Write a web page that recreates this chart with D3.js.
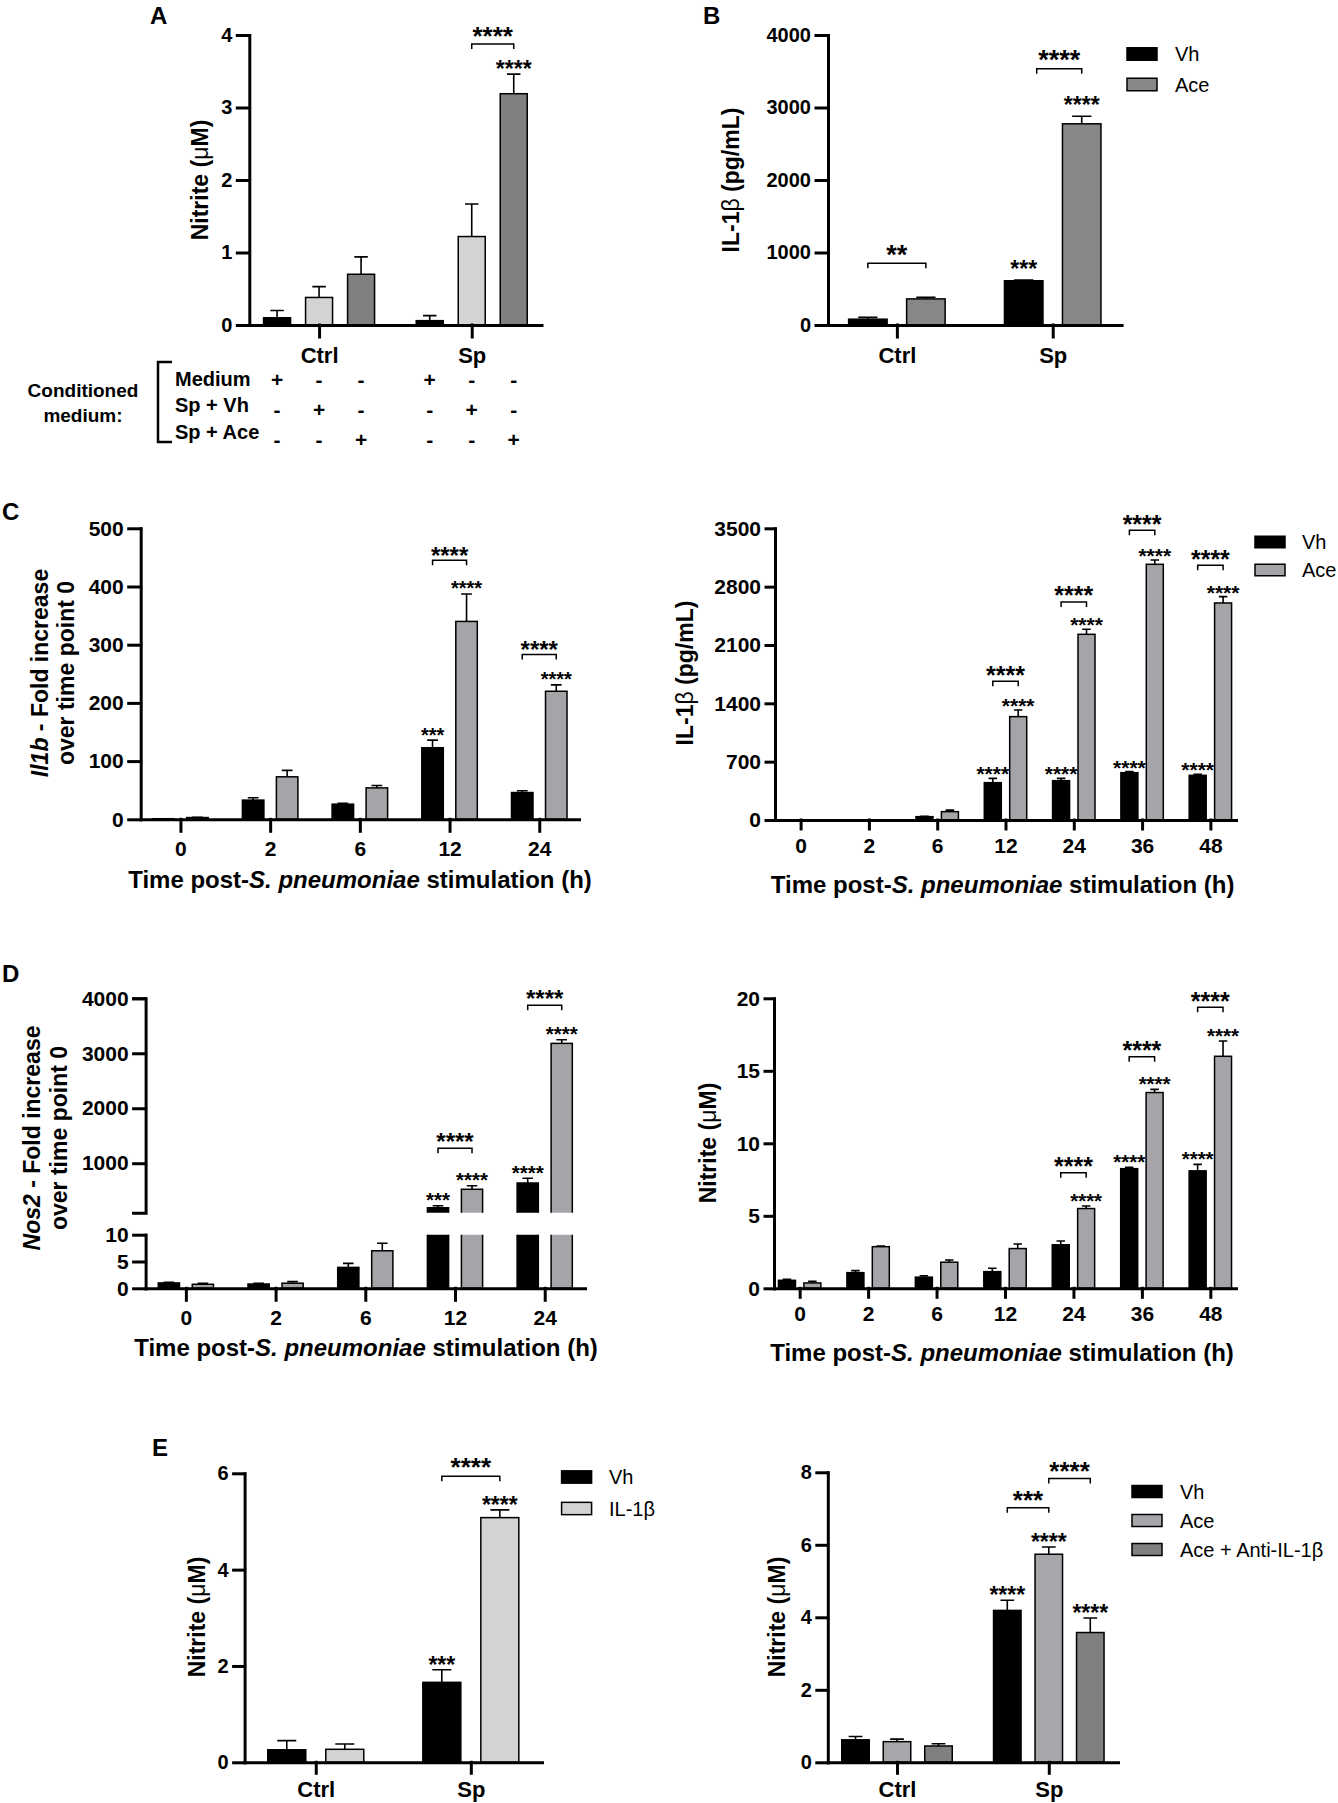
<!DOCTYPE html>
<html>
<head>
<meta charset="utf-8">
<script src="https://cdn.jsdelivr.net/npm/d3@7"></script>
<style>
  body { margin: 0; background: #fff; }
  svg { display: block; font-family: "Liberation Sans", Arial, Helvetica, sans-serif; }
  .axis path, .axis line { stroke: #000; stroke-width: 3; stroke-linecap: square; }
  .axis text { fill: #000; font-weight: bold; font-family: "Liberation Sans", Arial, sans-serif; }
  text { fill: #000; }
</style>
</head>
<body>
<svg id="fig" width="1338" height="1803"></svg>
<script>
// ---- data ----
// A: nitrite after conditioned medium
const groupsA = ["Ctrl", "Sp"];
const seriesA = ["Medium", "Sp + Vh", "Sp + Ace"];
const nitriteA = [[0.10, 0.38, 0.70], [0.06, 1.22, 3.19]];
const nitriteSemA = [[0.10, 0.15, 0.24], [0.07, 0.45, 0.27]];
const condRows = ["Medium", "Sp + Vh", "Sp + Ace"];
const condSigns = [
  ["+", "-", "-", "+", "-", "-"],
  ["-", "+", "-", "-", "+", "-"],
  ["-", "-", "+", "-", "-", "+"]
];

// B: IL-1b protein
const groupsB = ["Ctrl", "Sp"];
const seriesB = ["Vh", "Ace"];
const il1bB = [[80, 360], [610, 2775]];
const il1bSemB = [[25, 22], [10, 105]];

// C left: Il1b fold increase
const timesC1 = ["0", "2", "6", "12", "24"];
const seriesC = ["Vh", "Ace"];
const il1bFoldVh = [1, 33, 26, 123, 46];
const il1bFoldAce = [3, 73, 54, 340, 220];
const il1bFoldSemVh = [0, 4, 1.5, 13, 3];
const il1bFoldSemAce = [0.5, 11, 4, 47, 11];

// C right: IL-1b protein over time
const timesC2 = ["0", "2", "6", "12", "24", "36", "48"];
const il1bTimeVh = [0, 0, 40, 448, 472, 568, 536];
const il1bTimeAce = [0, 0, 100, 1240, 2228, 3068, 2604];
const il1bTimeSemVh = [0, 0, 5, 52, 28, 12, 12];
const il1bTimeSemAce = [0, 0, 18, 80, 60, 52, 76];

// D left: Nos2 fold increase (broken axis)
const timesD1 = ["0", "2", "6", "12", "24"];
const nos2Vh = [1.0, 0.8, 3.9, 190, 640];
const nos2Ace = [0.75, 0.95, 7.0, 526, 3180];
const nos2SemVh = [0.1, 0.15, 0.75, 37, 86];
const nos2SemAce = [0.17, 0.3, 1.4, 65, 65];

// D right: nitrite over time
const timesD2 = ["0", "2", "6", "12", "24", "36", "48"];
const nitriteTimeVh = [0.55, 1.08, 0.77, 1.15, 3.0, 8.25, 8.1];
const nitriteTimeAce = [0.37, 2.87, 1.8, 2.74, 5.5, 13.5, 16.0];
const nitriteTimeSemVh = [0.07, 0.14, 0.1, 0.23, 0.26, 0.09, 0.45];
const nitriteTimeSemAce = [0.11, 0.05, 0.15, 0.32, 0.18, 0.22, 1.06];

// E left: nitrite with IL-1b
const groupsE = ["Ctrl", "Sp"];
const seriesE1 = ["Vh", "IL-1β"];
const nitriteE1 = [[0.26, 0.27], [1.66, 5.08]];
const nitriteSemE1 = [[0.19, 0.11], [0.26, 0.16]];

// E right: nitrite with anti-IL-1b
const seriesE2 = ["Vh", "Ace", "Ace + Anti-IL-1β"];
const nitriteE2 = [[0.62, 0.57, 0.45], [4.19, 5.74, 3.58]];
const nitriteSemE2 = [[0.09, 0.07, 0.06], [0.28, 0.20, 0.40]];

// significance marks: brackets [group, seriesA, seriesB, y value, label], stars [group, series, label]
const bracketsA = [["Sp", 1, 2, 3.876, "****"]];
const starsA = [["Sp", 2, "****"]];
const bracketsB = [["Ctrl", 0, 1, 851, "**"], ["Sp", 0, 1, 3535, "****"]];
const starsB = [["Sp", 0, "***"], ["Sp", 1, "****"]];
const bracketsC1 = [["12", 0, 1, 445, "****"], ["24", 0, 1, 283, "****"]];
const starsC1 = [["12", 0, "***"], ["12", 1, "****"], ["24", 1, "****"]];
const bracketsC2 = [["12", 0, 1, 1666, "****"], ["24", 0, 1, 2617, "****"], ["36", 0, 1, 3476, "****"], ["48", 0, 1, 3056, "****"]];
const starsC2 = [["12", 0, "****"], ["12", 1, "****"], ["24", 0, "****"], ["24", 1, "****"], ["36", 0, "****"], ["36", 1, "****"], ["48", 0, "****"], ["48", 1, "****"]];
const bracketsD1 = [["12", 0, 1, 1271, "****"], ["24", 0, 1, 3873, "****"]];
const starsD1 = [["12", 0, "***"], ["12", 1, "****"], ["24", 0, "****"], ["24", 1, "****"]];
const bracketsD2 = [["24", 0, 1, 7.97, "****"], ["36", 0, 1, 15.97, "****"], ["48", 0, 1, 19.38, "****"]];
const starsD2 = [["24", 1, "****"], ["36", 0, "****"], ["36", 1, "****"], ["48", 0, "****"], ["48", 1, "****"]];
const bracketsE1 = [["Sp", 0, 1, 5.94, "****"]];
const starsE1 = [["Sp", 0, "***"], ["Sp", 1, "****"]];
const bracketsE2 = [["Sp", 0, 1, 7.02, "***"], ["Sp", 1, 2, 7.83, "****"]];
const starsE2 = [["Sp", 0, "****"], ["Sp", 1, "****"], ["Sp", 2, "****"]];

// transpose per-series arrays into [group][series]
const byGroup = (...cols) => cols[0].map((_, i) => cols.map(c => c[i]));

const svg = d3.select("#fig");
const dfmt = d3.format("d");

function drawPanel(o) {
  const g = svg.append("g");
  const nS = o.series.length;
  const x = d3.scalePoint().domain(o.groups).range([o.left, o.right]).padding(o.pad);
  const inner = 1 - o.barW / o.pitch;
  const sub = d3.scaleBand().domain(d3.range(nS))
    .range([-nS * o.pitch / 2, nS * o.pitch / 2])
    .paddingInner(inner).paddingOuter(inner / 2);
  const cx = (grp, si) => x(grp) + sub(si) + sub.bandwidth() / 2;

  const segs = o.segments.map(s => Object.assign({}, s, {
    y: d3.scaleLinear().domain(s.domain).range(s.range)
  }));
  const yPx = v => {
    const s = segs.find(s => v >= s.domain[0] && v <= s.domain[1]) || segs[segs.length - 1];
    return s.y(v);
  };

  const rows = [];
  o.values.forEach((row, gi) => row.forEach((v, si) =>
    rows.push({ grp: o.groups[gi], si, v, e: o.errs[gi][si] })));

  segs.forEach((s, k) => {
    const id = o.id + "-clip" + k;
    const top = k === segs.length - 1 ? s.range[1] - 400 : s.range[1];
    const bot = s.range[0] + (k === 0 ? 3 : 0);
    g.append("clipPath").attr("id", id).append("rect")
      .attr("x", o.left - 10).attr("width", o.right - o.left + 300)
      .attr("y", top).attr("height", bot - top);
    const bg = g.append("g").attr("clip-path", `url(#${id})`);
    const vis = rows.filter(d => k === 0 || d.v > s.domain[0]);
    const yTop = d => d.v > s.domain[1] ? s.range[1] - 10 : s.y(d.v);
    const yBot = () => k === 0 ? s.y(s.domain[0]) : s.range[0] + 10;

    bg.selectAll("rect.bar").data(vis).join("rect")
      .attr("class", "bar")
      .attr("x", d => cx(d.grp, d.si) - o.barW / 2)
      .attr("width", o.barW)
      .attr("y", yTop)
      .attr("height", d => Math.max(0, yBot() - yTop(d)))
      .attr("fill", d => o.colors[d.si])
      .attr("stroke", "#000")
      .attr("stroke-width", 1.5);

    const withErr = vis.filter(d => d.v <= s.domain[1] && d.e > 0);
    const capW = o.barW * 0.5;
    bg.selectAll("path.err").data(withErr).join("path")
      .attr("class", "err")
      .attr("fill", "none").attr("stroke", "#000").attr("stroke-width", 1.6)
      .attr("d", d => {
        const c = cx(d.grp, d.si), y0 = s.y(d.v), y1 = s.y(d.v + d.e);
        return `M${c},${y0}V${y1}M${c - capW / 2},${y1}H${c + capW / 2}`;
      });

    const ya = d3.axisLeft(s.y).tickValues(s.ticks).tickFormat(dfmt)
      .tickSize(o.tick).tickSizeOuter(s.cap ? o.tick : 0).tickPadding(o.yPad);
    g.append("g").attr("class", "axis")
      .attr("transform", `translate(${o.left},0)`)
      .call(ya)
      .selectAll("text").style("font-size", o.tickFs + "px");
  });

  const xa = d3.axisBottom(x).tickSize(o.tick).tickSizeOuter(0).tickPadding(o.xPad);
  g.append("g").attr("class", "axis")
    .attr("transform", `translate(0,${segs[0].range[0]})`)
    .call(xa)
    .selectAll("text").style("font-size", o.xFs + "px");

  // significance brackets
  o.brackets.forEach(([grp, a, b, yv, label]) => {
    const x1 = cx(grp, a) + ((o.brInset || {})[grp] || 0), x2 = cx(grp, b), yb = yPx(yv);
    g.append("path").attr("fill", "none").attr("stroke", "#000").attr("stroke-width", 1.5)
      .attr("d", `M${x1},${yb + 5}V${yb}H${x2}V${yb + 5}`);
    starText(g, (x1 + x2) / 2, yb - o.brGap, label, o.brFs);
  });
  o.stars.forEach(([grp, si, label]) => {
    const gi = o.groups.indexOf(grp);
    const v = o.values[gi][si] + o.errs[gi][si];
    starText(g, cx(grp, si), yPx(v) - o.starGap, label, o.starFs);
  });

  if (o.legend) {
    const L = o.legend;
    o.series.forEach((name, si) => {
      const yc = L.y + si * L.dy;
      g.append("rect").attr("x", L.x).attr("y", yc - L.h / 2)
        .attr("width", L.w).attr("height", L.h)
        .attr("fill", o.colors[si]).attr("stroke", "#000").attr("stroke-width", 1.5);
      g.append("text").attr("x", L.tx).attr("y", yc).attr("dy", "0.35em")
        .style("font-size", L.fs + "px").text(name);
    });
  }
  return { cx };
}

// asterisks sit high in the em box, so the baseline goes below the wanted centre
function starText(g, x, yc, label, fs) {
  g.append("text").attr("x", x).attr("y", yc + 0.47 * fs)
    .attr("text-anchor", "middle")
    .style("font-size", fs + "px").style("font-weight", "bold")
    .text(label);
}

function title(cx, cy, parts, fs, rotate) {
  const t = svg.append("text")
    .attr("transform", `translate(${cx},${cy})` + (rotate ? " rotate(-90)" : ""))
    .attr("text-anchor", "middle").attr("dy", "0.35em")
    .style("font-size", fs + "px").style("font-weight", "bold");
  parts.forEach(p => {
    const ts = t.append("tspan").text(p[0]);
    if (p[1]) ts.style("font-style", "italic");
    if (p[2]) ts.style("font-weight", "normal");
  });
}

function letter(x, y, s) {
  svg.append("text").attr("x", x).attr("y", y)
    .style("font-size", "24px").style("font-weight", "bold").text(s);
}

const xTitleParts = [["Time post-"], ["S. pneumoniae", true], [" stimulation (h)"]];
const nitriteParts = [["Nitrite ("], ["μ", false, true], ["M)"]];
const il1bParts = [["IL-1"], ["β", false, true], [" (pg/mL)"]];

// ---- Panel A ----
const pA = drawPanel({
  id: "A", groups: groupsA, series: seriesA, values: nitriteA, errs: nitriteSemA,
  colors: ["#000000", "#d3d3d3", "#808080"],
  left: 249.3, right: 541.5, pad: 0.457, pitch: 42, barW: 27,
  segments: [{ domain: [0, 4], range: [325, 35], ticks: [0, 1, 2, 3, 4] }],
  tick: 12, yPad: 5, xPad: 10.5, tickFs: 20, xFs: 22,
  brackets: bracketsA, stars: starsA, brGap: 11, starGap: 8, brFs: 26, starFs: 23
});
letter(150, 24, "A");
title(199.7, 180, nitriteParts, 23, true);

// conditioned medium table
svg.append("path").attr("fill", "none").attr("stroke", "#000").attr("stroke-width", 2.5)
  .attr("d", "M172,362H158V442H172");
svg.append("text").attr("x", 83).attr("y", 390).attr("dy", "0.35em").attr("text-anchor", "middle")
  .style("font-size", "19px").style("font-weight", "bold").text("Conditioned");
svg.append("text").attr("x", 83).attr("y", 415).attr("dy", "0.35em").attr("text-anchor", "middle")
  .style("font-size", "19px").style("font-weight", "bold").text("medium:");
condRows.forEach((name, r) => {
  svg.append("text").attr("x", 175).attr("y", 379 + r * 26.3).attr("dy", "0.35em")
    .style("font-size", "20px").style("font-weight", "bold").text(name);
  condSigns[r].forEach((s, c) => {
    const grp = groupsA[Math.floor(c / 3)], si = c % 3;
    svg.append("text").attr("x", pA.cx(grp, si)).attr("y", 380 + r * 30).attr("dy", "0.35em")
      .attr("text-anchor", "middle")
      .style("font-size", "21px").style("font-weight", "bold").text(s);
  });
});

// ---- Panel B ----
drawPanel({
  id: "B", groups: groupsB, series: seriesB, values: il1bB, errs: il1bSemB,
  colors: ["#000000", "#878787"],
  left: 828, right: 1121.6, pad: 0.442, pitch: 58, barW: 38.5,
  segments: [{ domain: [0, 4000], range: [325, 35], ticks: [0, 1000, 2000, 3000, 4000] }],
  tick: 12, yPad: 5, xPad: 10.5, tickFs: 20, xFs: 22,
  brackets: bracketsB, stars: starsB, brGap: 12, starGap: 14, brFs: 27, starFs: 23,
  brInset: { Sp: 13 },
  legend: { x: 1127, y: 54, dy: 30.5, w: 30, h: 12.5, tx: 1175, fs: 20 }
});
letter(703, 24, "B");
title(731, 180, il1bParts, 23, true);

// ---- Panel C left ----
drawPanel({
  id: "C1", groups: timesC1, series: seriesC,
  values: byGroup(il1bFoldVh, il1bFoldAce), errs: byGroup(il1bFoldSemVh, il1bFoldSemAce),
  colors: ["#000000", "#a5a5a9"],
  left: 140.7, right: 579, pad: 0.443, pitch: 34, barW: 21.5,
  segments: [{ domain: [0, 500], range: [819.3, 528.3], ticks: [0, 100, 200, 300, 400, 500] }],
  tick: 12, yPad: 5, xPad: 10, tickFs: 21, xFs: 21,
  brackets: bracketsC1, stars: starsC1, brGap: 8, starGap: 8, brFs: 24, starFs: 20
});
letter(2, 520, "C");
title(40, 673, [["Il1b", true], [" - Fold increase"]], 23, true);
title(66, 673, [["over time point 0"]], 23, true);
title(360, 880, xTitleParts, 24, false);

// ---- Panel C right ----
drawPanel({
  id: "C2", groups: timesC2, series: seriesC,
  values: byGroup(il1bTimeVh, il1bTimeAce), errs: byGroup(il1bTimeSemVh, il1bTimeSemAce),
  colors: ["#000000", "#a5a5a9"],
  left: 775, right: 1236, pad: 0.375, pitch: 25.4, barW: 17,
  segments: [{ domain: [0, 3500], range: [820, 528.3], ticks: [0, 700, 1400, 2100, 2800, 3500] }],
  tick: 9, yPad: 5, xPad: 9, tickFs: 21, xFs: 21,
  brackets: bracketsC2, stars: starsC2, brGap: 9.3, starGap: 7, brFs: 25, starFs: 21,
  legend: { x: 1255, y: 542, dy: 28, w: 30, h: 11.5, tx: 1302, fs: 20 }
});
title(685, 673, il1bParts, 23, true);
title(1002.6, 885, xTitleParts, 24, false);

// ---- Panel D left (broken axis) ----
drawPanel({
  id: "D1", groups: timesD1, series: seriesC,
  values: byGroup(nos2Vh, nos2Ace), errs: byGroup(nos2SemVh, nos2SemAce),
  colors: ["#000000", "#a5a5a9"],
  left: 145.6, right: 585, pad: 0.449, pitch: 34, barW: 21.2,
  segments: [
    { domain: [0, 10], range: [1288.3, 1234.7], ticks: [0, 5, 10] },
    { domain: [100, 4000], range: [1212.7, 998.3], ticks: [1000, 2000, 3000, 4000], cap: true }
  ],
  tick: 12, yPad: 5, xPad: 9.6, tickFs: 21, xFs: 21,
  brackets: bracketsD1, stars: starsD1, brGap: 9.3, starGap: 8, brFs: 24, starFs: 20.5
});
letter(2, 982, "D");
title(32, 1138, [["Nos2", true], [" - Fold increase"]], 23, true);
title(59, 1138, [["over time point 0"]], 23, true);
title(366, 1348, xTitleParts, 24, false);

// ---- Panel D right ----
drawPanel({
  id: "D2", groups: timesD2, series: seriesC,
  values: byGroup(nitriteTimeVh, nitriteTimeAce), errs: byGroup(nitriteTimeSemVh, nitriteTimeSemAce),
  colors: ["#000000", "#a5a5a9"],
  left: 774, right: 1236, pad: 0.375, pitch: 25.4, barW: 17,
  segments: [{ domain: [0, 20], range: [1288.3, 998.3], ticks: [0, 5, 10, 15, 20] }],
  tick: 9, yPad: 5, xPad: 9, tickFs: 21, xFs: 21,
  brackets: bracketsD2, stars: starsD2, brGap: 9.4, starGap: 8, brFs: 25, starFs: 20.5
});
title(708, 1143, nitriteParts, 23, true);
title(1002, 1353, xTitleParts, 24, false);

// ---- Panel E left ----
drawPanel({
  id: "E1", groups: groupsE, series: seriesE1, values: nitriteE1, errs: nitriteSemE1,
  colors: ["#000000", "#d3d3d3"],
  left: 244.6, right: 542, pad: 0.459, pitch: 58, barW: 38,
  segments: [{ domain: [0, 6], range: [1762.3, 1473.3], ticks: [0, 2, 4, 6] }],
  tick: 11, yPad: 5, xPad: 8, tickFs: 20, xFs: 22,
  brackets: bracketsE1, stars: starsE1, brGap: 12.7, starGap: 8, brFs: 26, starFs: 23,
  legend: { x: 561.6, y: 1477, dy: 31.5, w: 30, h: 12.3, tx: 609, fs: 20 }
});
letter(152, 1456, "E");
title(197, 1617, nitriteParts, 23, true);

// ---- Panel E right ----
drawPanel({
  id: "E2", groups: groupsE, series: seriesE2, values: nitriteE2, errs: nitriteSemE2,
  colors: ["#000000", "#a7a7ab", "#808080"],
  left: 827.8, right: 1118, pad: 0.456, pitch: 41.5, barW: 27.5,
  segments: [{ domain: [0, 8], range: [1762.3, 1472.3], ticks: [0, 2, 4, 6, 8] }],
  tick: 11, yPad: 5, xPad: 8, tickFs: 20, xFs: 22,
  brackets: bracketsE2, stars: starsE2, brGap: 11, starGap: 8, brFs: 26, starFs: 23,
  legend: { x: 1132, y: 1491.5, dy: 29, w: 30, h: 12, tx: 1180, fs: 20 }
});
title(777, 1617, nitriteParts, 23, true);
</script>
</body>
</html>
